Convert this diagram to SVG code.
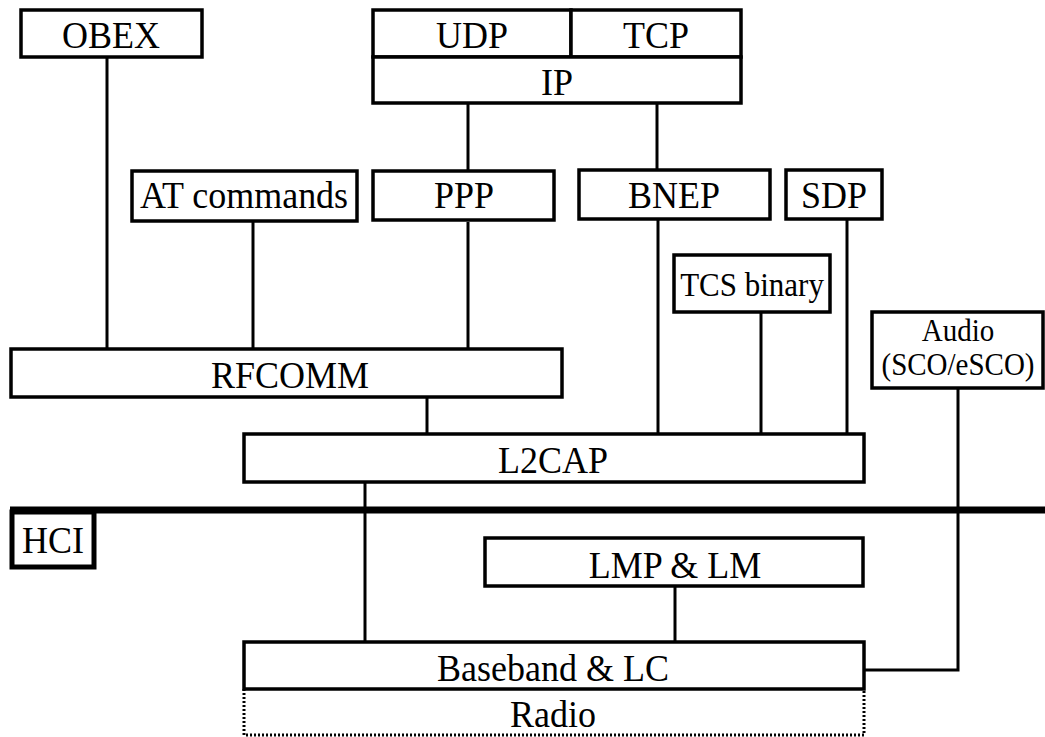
<svg xmlns="http://www.w3.org/2000/svg" width="1045" height="737" viewBox="0 0 1045 737">
<style>
.b{fill:#fff;stroke:#000;stroke-width:3.5}
.t{font-family:"Liberation Serif","Times New Roman",serif;font-size:36px;text-anchor:middle;fill:#000}
.s{font-size:31px}
.a{font-size:29px}
.c{fill:none;stroke:#000;stroke-width:3}
</style>
<rect width="1045" height="737" fill="#fff"/>
<g id="connectors">
<line class="c" x1="107" y1="57" x2="107" y2="349"/>
<line class="c" x1="468" y1="103" x2="468" y2="172"/>
<line class="c" x1="657" y1="103" x2="657" y2="172"/>
<line class="c" x1="253" y1="222" x2="253" y2="349"/>
<line class="c" x1="468" y1="222" x2="468" y2="349"/>
<line class="c" x1="658" y1="220" x2="658" y2="434"/>
<line class="c" x1="761" y1="312" x2="761" y2="434"/>
<line class="c" x1="847" y1="220" x2="847" y2="434"/>
<line class="c" x1="427" y1="397" x2="427" y2="434"/>
<line class="c" x1="365" y1="482" x2="365" y2="642"/>
<line class="c" x1="675" y1="586" x2="675" y2="642"/>
<polyline class="c" points="958,388 958,670 864,670"/>
</g>
<g id="hci">
<line x1="10" y1="510" x2="1045" y2="510" stroke="#000" stroke-width="7"/>
<rect x="12" y="512" width="82" height="55" fill="#fff" stroke="#000" stroke-width="5"/>
<text class="t" transform="translate(53,553) scale(1,1.08)">HCI</text>
</g>
<g id="obex"><rect class="b" x="21" y="10" width="181" height="47"/><text class="t" transform="translate(111,48) scale(1,1.08)">OBEX</text></g>
<g id="udp"><rect class="b" x="373" y="10" width="198" height="47"/><text class="t" transform="translate(472,48) scale(1,1.08)">UDP</text></g>
<g id="tcp"><rect class="b" x="571" y="10" width="170" height="47"/><text class="t" transform="translate(656,48) scale(1,1.08)">TCP</text></g>
<g id="ip"><rect class="b" x="373" y="57" width="368" height="46"/><text class="t" transform="translate(557,95) scale(1,1.08)">IP</text></g>
<g id="at"><rect class="b" x="132" y="171" width="225" height="50"/><text class="t" transform="translate(244,208) scale(1,1.08)">AT commands</text></g>
<g id="ppp"><rect class="b" x="373" y="171" width="181" height="49"/><text class="t" transform="translate(464,208) scale(1,1.08)">PPP</text></g>
<g id="bnep"><rect class="b" x="579" y="170" width="191" height="49"/><text class="t" transform="translate(674,208) scale(1,1.08)">BNEP</text></g>
<g id="sdp"><rect class="b" x="786" y="170" width="96" height="49"/><text class="t" transform="translate(834,208) scale(1,1.08)">SDP</text></g>
<g id="tcs"><rect class="b" x="674" y="255" width="156" height="57"/><text class="t s" transform="translate(752,296) scale(1,1.08)">TCS binary</text></g>
<g id="audio"><rect class="b" x="872" y="312" width="171" height="76"/><text class="t a" transform="translate(958,341) scale(1,1.08)">Audio</text><text class="t a" transform="translate(958,375) scale(1,1.08)">(SCO/eSCO)</text></g>
<g id="rfcomm"><rect class="b" x="11" y="349" width="551" height="48"/><text class="t" transform="translate(290,388) scale(1,1.08)">RFCOMM</text></g>
<g id="l2cap"><rect class="b" x="244" y="434" width="620" height="48"/><text class="t" transform="translate(553,473) scale(1,1.08)">L2CAP</text></g>
<g id="lmp"><rect class="b" x="485" y="538" width="378" height="48"/><text class="t" transform="translate(675,578) scale(1,1.08)">LMP &amp; LM</text></g>
<g id="radio"><path d="M244,689 V735 H864 V689" fill="none" stroke="#000" stroke-width="3" stroke-dasharray="2 2"/><text class="t" transform="translate(553,727) scale(1,1.08)">Radio</text></g>
<g id="baseband"><rect class="b" x="244" y="642" width="620" height="47"/><text class="t" transform="translate(553,681) scale(1,1.08)">Baseband &amp; LC</text></g>
</svg>
